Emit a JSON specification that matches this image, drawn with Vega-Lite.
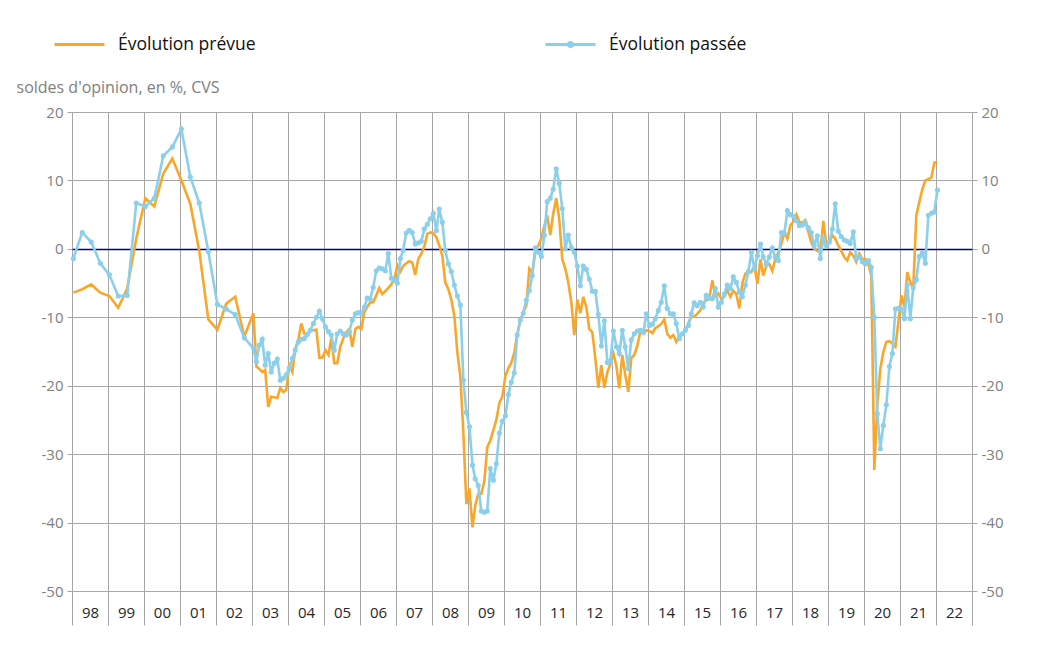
{
  "$schema": "https://vega.github.io/schema/vega-lite/v6.json",
  "width": 900,
  "height": 479,
  "autosize": {"type": "none"},
  "padding": {"left": 72, "top": 112, "right": 65, "bottom": 75},
  "background": "white",
  "config": {
    "font": "Open Sans",
    "view": {"stroke": "#A6A6A6", "strokeWidth": 1}
  },
  "data": {"values": [
    {"d":"1998-01-15","o":-6.4,"b":-1.4},
    {"d":"1998-04-15","o":-5.9,"b":2.4},
    {"d":"1998-07-15","o":-5.2,"b":1.0},
    {"d":"1998-10-15","o":-6.4,"b":-2.1},
    {"d":"1999-01-15","o":-6.9,"b":-3.8},
    {"d":"1999-04-15","o":-8.6,"b":-6.9},
    {"d":"1999-07-15","o":-5.8,"b":-6.8},
    {"d":"1999-10-15","o":1.5,"b":6.7},
    {"d":"2000-01-15","o":7.4,"b":6.2},
    {"d":"2000-04-15","o":6.2,"b":7.4},
    {"d":"2000-07-15","o":11.0,"b":13.6},
    {"d":"2000-10-15","o":13.2,"b":14.9},
    {"d":"2001-01-15","o":10.0,"b":17.5},
    {"d":"2001-04-15","o":6.6,"b":10.5},
    {"d":"2001-07-15","o":-0.3,"b":6.7},
    {"d":"2001-10-15","o":-10.3,"b":-0.4},
    {"d":"2002-01-15","o":-11.8,"b":-8.1},
    {"d":"2002-04-15","o":-8.0,"b":-8.8},
    {"d":"2002-07-15","o":-7.0,"b":-9.6},
    {"d":"2002-10-15","o":-12.8,"b":-13.0},
    {"d":"2003-01-15","o":-9.4,"b":-14.5},
    {"d":"2003-02-15","o":-17.2,"b":-16.5},
    {"d":"2003-03-15","o":-17.5,"b":-14.1},
    {"d":"2003-04-15","o":-18.0,"b":-13.2},
    {"d":"2003-05-15","o":-17.7,"b":-17.0},
    {"d":"2003-06-15","o":-23.1,"b":-15.3},
    {"d":"2003-07-15","o":-21.6,"b":-18.0},
    {"d":"2003-08-15","o":-21.7,"b":-16.7},
    {"d":"2003-09-15","o":-21.8,"b":-16.1},
    {"d":"2003-10-15","o":-20.3,"b":-19.2},
    {"d":"2003-11-15","o":-20.9,"b":-18.9},
    {"d":"2003-12-15","o":-20.6,"b":-18.4},
    {"d":"2004-01-15","o":-17.0,"b":-17.4},
    {"d":"2004-02-15","o":-18.0,"b":-16.0},
    {"d":"2004-03-15","o":-14.6,"b":-14.8},
    {"d":"2004-04-15","o":-13.3,"b":-13.6},
    {"d":"2004-05-15","o":-10.9,"b":-13.2},
    {"d":"2004-06-15","o":-12.4,"b":-13.1},
    {"d":"2004-07-15","o":-12.6,"b":-12.5},
    {"d":"2004-08-15","o":-12.0,"b":-11.9},
    {"d":"2004-09-15","o":-11.9,"b":-10.9},
    {"d":"2004-10-15","o":-11.8,"b":-10.0},
    {"d":"2004-11-15","o":-15.9,"b":-9.1},
    {"d":"2004-12-15","o":-15.9,"b":-10.2},
    {"d":"2005-01-15","o":-14.8,"b":-11.4},
    {"d":"2005-02-15","o":-15.5,"b":-12.1},
    {"d":"2005-03-15","o":-13.1,"b":-12.6},
    {"d":"2005-04-15","o":-16.7,"b":-14.8},
    {"d":"2005-05-15","o":-16.7,"b":-12.4},
    {"d":"2005-06-15","o":-14.3,"b":-12.0},
    {"d":"2005-07-15","o":-13.1,"b":-12.4},
    {"d":"2005-08-15","o":-12.2,"b":-12.6},
    {"d":"2005-09-15","o":-11.7,"b":-12.1},
    {"d":"2005-10-15","o":-14.3,"b":-10.4},
    {"d":"2005-11-15","o":-11.7,"b":-9.5},
    {"d":"2005-12-15","o":-11.4,"b":-9.3},
    {"d":"2006-01-15","o":-11.7,"b":-9.5},
    {"d":"2006-02-15","o":-9.2,"b":-8.5},
    {"d":"2006-03-15","o":-8.5,"b":-7.2},
    {"d":"2006-04-15","o":-7.8,"b":-7.3},
    {"d":"2006-05-15","o":-7.8,"b":-5.6},
    {"d":"2006-06-15","o":-6.8,"b":-3.2},
    {"d":"2006-07-15","o":-5.7,"b":-2.8},
    {"d":"2006-08-15","o":-6.6,"b":-2.9},
    {"d":"2006-09-15","o":-6.2,"b":-3.2},
    {"d":"2006-10-15","o":-5.7,"b":-0.7},
    {"d":"2006-11-15","o":-5.2,"b":-4.3},
    {"d":"2006-12-15","o":-4.4,"b":-4.6},
    {"d":"2007-01-15","o":-2.4,"b":-5.0},
    {"d":"2007-02-15","o":-3.3,"b":-1.4},
    {"d":"2007-03-15","o":-2.5,"b":-0.2},
    {"d":"2007-04-15","o":-2.1,"b":2.3},
    {"d":"2007-05-15","o":-1.8,"b":2.7},
    {"d":"2007-06-15","o":-2.0,"b":2.4},
    {"d":"2007-07-15","o":-3.8,"b":0.7},
    {"d":"2007-08-15","o":-1.5,"b":0.9},
    {"d":"2007-09-15","o":-0.7,"b":1.1},
    {"d":"2007-10-15","o":0.3,"b":2.9},
    {"d":"2007-11-15","o":2.2,"b":3.6},
    {"d":"2007-12-15","o":2.4,"b":4.4},
    {"d":"2008-01-15","o":2.3,"b":5.2},
    {"d":"2008-02-15","o":1.7,"b":2.7},
    {"d":"2008-03-15","o":0.5,"b":5.8},
    {"d":"2008-04-15","o":-1.0,"b":3.9},
    {"d":"2008-05-15","o":-4.9,"b":-0.2},
    {"d":"2008-06-15","o":-5.9,"b":-2.2},
    {"d":"2008-07-15","o":-7.4,"b":-3.3},
    {"d":"2008-08-15","o":-9.8,"b":-5.3},
    {"d":"2008-09-15","o":-15.2,"b":-6.9},
    {"d":"2008-10-15","o":-18.6,"b":-8.2},
    {"d":"2008-11-15","o":-27.0,"b":-19.2},
    {"d":"2008-12-15","o":-37.3,"b":-23.9},
    {"d":"2009-01-15","o":-35.0,"b":-26.0},
    {"d":"2009-02-15","o":-40.7,"b":-31.6},
    {"d":"2009-03-15","o":-37.5,"b":-33.6},
    {"d":"2009-04-15","o":-35.8,"b":-34.6},
    {"d":"2009-05-15","o":-35.8,"b":-38.3},
    {"d":"2009-06-15","o":-34.0,"b":-38.5},
    {"d":"2009-07-15","o":-29.0,"b":-38.3},
    {"d":"2009-08-15","o":-28.0,"b":-32.1},
    {"d":"2009-09-15","o":-26.5,"b":-33.8},
    {"d":"2009-10-15","o":-25.0,"b":-31.4},
    {"d":"2009-11-15","o":-22.5,"b":-26.9},
    {"d":"2009-12-15","o":-21.6,"b":-25.2},
    {"d":"2010-01-15","o":-18.6,"b":-24.4},
    {"d":"2010-02-15","o":-17.4,"b":-21.3},
    {"d":"2010-03-15","o":-16.7,"b":-19.5},
    {"d":"2010-04-15","o":-15.2,"b":-18.1},
    {"d":"2010-05-15","o":-12.5,"b":-12.6},
    {"d":"2010-06-15","o":-10.5,"b":-10.4},
    {"d":"2010-07-15","o":-9.3,"b":-9.4},
    {"d":"2010-08-15","o":-8.3,"b":-7.5},
    {"d":"2010-09-15","o":-2.9,"b":-6.1},
    {"d":"2010-10-15","o":-3.5,"b":-3.9},
    {"d":"2010-11-15","o":-0.2,"b":0.1},
    {"d":"2010-12-15","o":0.5,"b":-0.5},
    {"d":"2011-01-15","o":1.5,"b":-1.1},
    {"d":"2011-02-15","o":3.4,"b":2.0},
    {"d":"2011-03-15","o":4.9,"b":6.9},
    {"d":"2011-04-15","o":2.0,"b":7.4},
    {"d":"2011-05-15","o":5.1,"b":8.7},
    {"d":"2011-06-15","o":7.4,"b":11.7},
    {"d":"2011-07-15","o":4.4,"b":9.6},
    {"d":"2011-08-15","o":-1.5,"b":5.9},
    {"d":"2011-09-15","o":-2.9,"b":0.0},
    {"d":"2011-10-15","o":-4.9,"b":2.0},
    {"d":"2011-11-15","o":-7.8,"b":0.2},
    {"d":"2011-12-15","o":-12.6,"b":-0.5},
    {"d":"2012-01-15","o":-7.4,"b":-2.5},
    {"d":"2012-02-15","o":-9.4,"b":-5.4},
    {"d":"2012-03-15","o":-7.0,"b":-2.5},
    {"d":"2012-04-15","o":-8.5,"b":-3.0},
    {"d":"2012-05-15","o":-11.7,"b":-4.4},
    {"d":"2012-06-15","o":-12.2,"b":-6.2},
    {"d":"2012-07-15","o":-15.9,"b":-6.2},
    {"d":"2012-08-15","o":-20.3,"b":-9.6},
    {"d":"2012-09-15","o":-17.0,"b":-14.2},
    {"d":"2012-10-15","o":-20.3,"b":-10.5},
    {"d":"2012-11-15","o":-18.0,"b":-16.6},
    {"d":"2012-12-15","o":-16.8,"b":-16.4},
    {"d":"2013-01-15","o":-15.3,"b":-12.0},
    {"d":"2013-02-15","o":-17.2,"b":-14.3},
    {"d":"2013-03-15","o":-20.4,"b":-15.3},
    {"d":"2013-04-15","o":-15.5,"b":-11.9},
    {"d":"2013-05-15","o":-18.4,"b":-14.3},
    {"d":"2013-06-15","o":-20.9,"b":-17.5},
    {"d":"2013-07-15","o":-16.0,"b":-13.3},
    {"d":"2013-08-15","o":-15.5,"b":-12.4},
    {"d":"2013-09-15","o":-14.1,"b":-12.0},
    {"d":"2013-10-15","o":-12.1,"b":-11.9},
    {"d":"2013-11-15","o":-12.4,"b":-12.2},
    {"d":"2013-12-15","o":-11.9,"b":-9.5},
    {"d":"2014-01-15","o":-12.0,"b":-11.2},
    {"d":"2014-02-15","o":-12.3,"b":-11.0},
    {"d":"2014-03-15","o":-11.6,"b":-10.2},
    {"d":"2014-04-15","o":-11.3,"b":-9.0},
    {"d":"2014-05-15","o":-11.0,"b":-7.8},
    {"d":"2014-06-15","o":-10.3,"b":-5.4},
    {"d":"2014-07-15","o":-12.4,"b":-8.7},
    {"d":"2014-08-15","o":-13.0,"b":-9.5},
    {"d":"2014-09-15","o":-12.6,"b":-9.5},
    {"d":"2014-10-15","o":-13.6,"b":-10.9},
    {"d":"2014-11-15","o":-12.8,"b":-13.1},
    {"d":"2014-12-15","o":-12.5,"b":-12.4},
    {"d":"2015-01-15","o":-12.0,"b":-11.9},
    {"d":"2015-02-15","o":-10.8,"b":-11.2},
    {"d":"2015-03-15","o":-10.0,"b":-9.5},
    {"d":"2015-04-15","o":-9.9,"b":-7.9},
    {"d":"2015-05-15","o":-9.5,"b":-8.3},
    {"d":"2015-06-15","o":-9.0,"b":-7.8},
    {"d":"2015-07-15","o":-8.0,"b":-8.5},
    {"d":"2015-08-15","o":-7.5,"b":-6.8},
    {"d":"2015-09-15","o":-7.3,"b":-7.2},
    {"d":"2015-10-15","o":-4.6,"b":-7.3},
    {"d":"2015-11-15","o":-6.9,"b":-5.8},
    {"d":"2015-12-15","o":-6.5,"b":-8.5},
    {"d":"2016-01-15","o":-7.3,"b":-7.8},
    {"d":"2016-02-15","o":-7.0,"b":-6.6},
    {"d":"2016-03-15","o":-6.0,"b":-5.3},
    {"d":"2016-04-15","o":-7.0,"b":-5.8},
    {"d":"2016-05-15","o":-6.1,"b":-4.1},
    {"d":"2016-06-15","o":-6.6,"b":-4.9},
    {"d":"2016-07-15","o":-8.7,"b":-6.3},
    {"d":"2016-08-15","o":-5.0,"b":-7.0},
    {"d":"2016-09-15","o":-3.6,"b":-5.3},
    {"d":"2016-10-15","o":-3.5,"b":-3.3},
    {"d":"2016-11-15","o":-3.4,"b":-0.5},
    {"d":"2016-12-15","o":-2.5,"b":-2.9},
    {"d":"2017-01-15","o":-5.1,"b":-1.0},
    {"d":"2017-02-15","o":-1.5,"b":0.7},
    {"d":"2017-03-15","o":-3.9,"b":-1.2},
    {"d":"2017-04-15","o":-2.5,"b":-2.2},
    {"d":"2017-05-15","o":-2.2,"b":-1.2},
    {"d":"2017-06-15","o":-3.2,"b":0.1},
    {"d":"2017-07-15","o":-1.5,"b":-1.2},
    {"d":"2017-08-15","o":-0.5,"b":-1.7},
    {"d":"2017-09-15","o":0.7,"b":2.4},
    {"d":"2017-10-15","o":2.4,"b":2.2},
    {"d":"2017-11-15","o":1.5,"b":5.6},
    {"d":"2017-12-15","o":3.4,"b":5.0},
    {"d":"2018-01-15","o":4.0,"b":4.8},
    {"d":"2018-02-15","o":5.0,"b":4.1},
    {"d":"2018-03-15","o":4.0,"b":3.4},
    {"d":"2018-04-15","o":3.8,"b":3.5},
    {"d":"2018-05-15","o":4.2,"b":3.8},
    {"d":"2018-06-15","o":2.5,"b":3.1},
    {"d":"2018-07-15","o":1.0,"b":2.4},
    {"d":"2018-08-15","o":0.0,"b":0.5},
    {"d":"2018-09-15","o":-0.3,"b":1.9},
    {"d":"2018-10-15","o":-0.5,"b":-1.4},
    {"d":"2018-11-15","o":4.1,"b":1.5},
    {"d":"2018-12-15","o":0.6,"b":0.5},
    {"d":"2019-01-15","o":1.0,"b":1.0},
    {"d":"2019-02-15","o":2.0,"b":2.9},
    {"d":"2019-03-15","o":1.5,"b":6.6},
    {"d":"2019-04-15","o":0.5,"b":2.6},
    {"d":"2019-05-15","o":-0.3,"b":1.8},
    {"d":"2019-06-15","o":-1.2,"b":1.3},
    {"d":"2019-07-15","o":-1.7,"b":1.1},
    {"d":"2019-08-15","o":-0.5,"b":0.8},
    {"d":"2019-09-15","o":-1.0,"b":2.5},
    {"d":"2019-10-15","o":-1.9,"b":-1.4},
    {"d":"2019-11-15","o":-0.7,"b":-1.2},
    {"d":"2019-12-15","o":-1.5,"b":-1.9},
    {"d":"2020-01-15","o":-1.5,"b":-2.2},
    {"d":"2020-02-15","o":-2.2,"b":-1.7},
    {"d":"2020-03-15","o":-3.9,"b":-2.7},
    {"d":"2020-04-15","o":-32.3,"b":-10.0},
    {"d":"2020-05-15","o":-22.8,"b":-24.1},
    {"d":"2020-06-15","o":-17.5,"b":-29.2},
    {"d":"2020-07-15","o":-15.1,"b":-25.8},
    {"d":"2020-08-15","o":-13.6,"b":-22.8},
    {"d":"2020-09-15","o":-13.5,"b":-17.2},
    {"d":"2020-10-15","o":-13.8,"b":-15.3},
    {"d":"2020-11-15","o":-14.3,"b":-8.8},
    {"d":"2020-12-15","o":-10.7,"b":-8.7},
    {"d":"2021-01-15","o":-6.8,"b":-8.8},
    {"d":"2021-02-15","o":-8.5,"b":-10.2},
    {"d":"2021-03-15","o":-3.4,"b":-5.3},
    {"d":"2021-04-15","o":-4.9,"b":-10.2},
    {"d":"2021-05-15","o":-5.8,"b":-5.7},
    {"d":"2021-06-15","o":4.9,"b":-4.5},
    {"d":"2021-07-15","o":6.8,"b":-1.1},
    {"d":"2021-08-15","o":8.7,"b":-0.6},
    {"d":"2021-09-15","o":10.0,"b":-2.1},
    {"d":"2021-10-15","o":10.2,"b":4.9},
    {"d":"2021-11-15","o":10.4,"b":5.2},
    {"d":"2021-12-15","o":12.6,"b":5.4},
    {"d":"2022-01-15","o":12.7,"b":8.6}
  ]},
  "encoding": {
    "x": {
      "field": "d", "type": "temporal",
      "scale": {"type": "utc", "nice": false, "domain": [{"year": 1998, "month": 1, "date": 1, "utc": true}, {"year": 2023, "month": 1, "date": 1, "utc": true}]},
      "axis": {
        "orient": "bottom", "title": null,
        "values": [
          {"year": 1998, "month": 1, "date": 1, "utc": true}, {"year": 1999, "month": 1, "date": 1, "utc": true},
          {"year": 2000, "month": 1, "date": 1, "utc": true}, {"year": 2001, "month": 1, "date": 1, "utc": true},
          {"year": 2002, "month": 1, "date": 1, "utc": true}, {"year": 2003, "month": 1, "date": 1, "utc": true},
          {"year": 2004, "month": 1, "date": 1, "utc": true}, {"year": 2005, "month": 1, "date": 1, "utc": true},
          {"year": 2006, "month": 1, "date": 1, "utc": true}, {"year": 2007, "month": 1, "date": 1, "utc": true},
          {"year": 2008, "month": 1, "date": 1, "utc": true}, {"year": 2009, "month": 1, "date": 1, "utc": true},
          {"year": 2010, "month": 1, "date": 1, "utc": true}, {"year": 2011, "month": 1, "date": 1, "utc": true},
          {"year": 2012, "month": 1, "date": 1, "utc": true}, {"year": 2013, "month": 1, "date": 1, "utc": true},
          {"year": 2014, "month": 1, "date": 1, "utc": true}, {"year": 2015, "month": 1, "date": 1, "utc": true},
          {"year": 2016, "month": 1, "date": 1, "utc": true}, {"year": 2017, "month": 1, "date": 1, "utc": true},
          {"year": 2018, "month": 1, "date": 1, "utc": true}, {"year": 2019, "month": 1, "date": 1, "utc": true},
          {"year": 2020, "month": 1, "date": 1, "utc": true}, {"year": 2021, "month": 1, "date": 1, "utc": true},
          {"year": 2022, "month": 1, "date": 1, "utc": true}, {"year": 2023, "month": 1, "date": 1, "utc": true}
        ],
        "labelExpr": "utcyear(datum.value) >= 2023 ? '' : utcFormat(datum.value, '%y')",
        "grid": true, "gridColor": "#A6A6A6", "gridWidth": 1,
        "domain": false,
        "ticks": true, "tickSize": 34, "tickColor": "#A6A6A6", "tickWidth": 1,
        "labelOffset": 18, "labelPadding": -20, "labelFontSize": 15, "labelColor": "#262626",
        "labelFlush": false, "labelOverlap": false, "labelBound": false
      }
    }
  },
  "resolve": {"axis": {"y": "independent"}},
  "layer": [
    {
      "mark": {"type": "line", "color": "#F9A72B", "strokeWidth": 2.6},
      "encoding": {
        "y": {
          "field": "o", "type": "quantitative",
          "scale": {"domain": [-50, 20], "nice": false, "zero": false},
          "axis": {
            "orient": "left",
            "values": [-50, -40, -30, -20, -10, 0, 10, 20],
            "labelExpr": "'' + datum.value",
            "grid": true,
            "gridColor": {"condition": {"test": "datum.value === 0", "value": "#000080"}, "value": "#A6A6A6"},
            "gridWidth": {"condition": {"test": "datum.value === 0", "value": 1.6}, "value": 1},
            "domain": false, "ticks": true, "tickSize": 5, "tickColor": "#A6A6A6",
            "labelColor": "#808080", "labelFontSize": 15, "labelPadding": 4,
            "title": "soldes d'opinion, en %, CVS",
            "titleAngle": 0, "titleAlign": "left", "titleBaseline": "middle",
            "titleX": -56, "titleY": -25,
            "titleFontSize": 16, "titleFontWeight": "normal", "titleColor": "#808080"
          }
        },
        "color": {
          "datum": "o",
          "scale": {"domain": ["o", "b"], "range": ["#F9A72B", "#8CCFEA"]},
          "legend": {
            "orient": "none", "legendX": -19, "legendY": -94,
            "direction": "horizontal", "columns": 2, "columnPadding": 283,
            "title": null, "padding": 0,
            "labelExpr": "datum.value == 'o' ? 'Évolution prévue' : 'Évolution passée'",
            "labelFontSize": 17.5, "labelColor": "#111111", "labelOffset": 12, "labelLimit": 400,
            "symbolType": "stroke", "symbolSize": 2500, "symbolStrokeWidth": 3,
            "encode": {
              "symbols": {
                "update": {
                  "shape": {"signal": "datum.value === 'b' ? 'M-1,0L1,0M-0.08,0A0.08,0.08,0,1,1,0.08,0A0.08,0.08,0,1,1,-0.08,0' : 'stroke'"},
                  "fill": {"signal": "datum.value === 'b' ? '#8CCFEA' : 'transparent'"}
                }
              }
            }
          }
        }
      }
    },
    {
      "mark": {"type": "line", "color": "#8CCFEA", "strokeWidth": 2.6},
      "encoding": {
        "y": {
          "field": "b", "type": "quantitative",
          "scale": {"domain": [-50, 20], "nice": false, "zero": false},
          "axis": {
            "orient": "right",
            "values": [-50, -40, -30, -20, -10, 0, 10, 20],
            "labelExpr": "'' + datum.value",
            "grid": false, "domain": false, "ticks": true, "tickSize": 5, "tickColor": "#A6A6A6",
            "labelColor": "#808080", "labelFontSize": 15, "labelPadding": 4, "title": null
          }
        },
        "color": {"datum": "b"}
      }
    },
    {
      "mark": {"type": "point", "filled": true, "size": 26, "opacity": 1, "color": "#8CCFEA"},
      "encoding": {
        "y": {"field": "b", "type": "quantitative", "axis": null, "scale": {"domain": [-50, 20], "nice": false, "zero": false}}
      }
    }
  ]
}
